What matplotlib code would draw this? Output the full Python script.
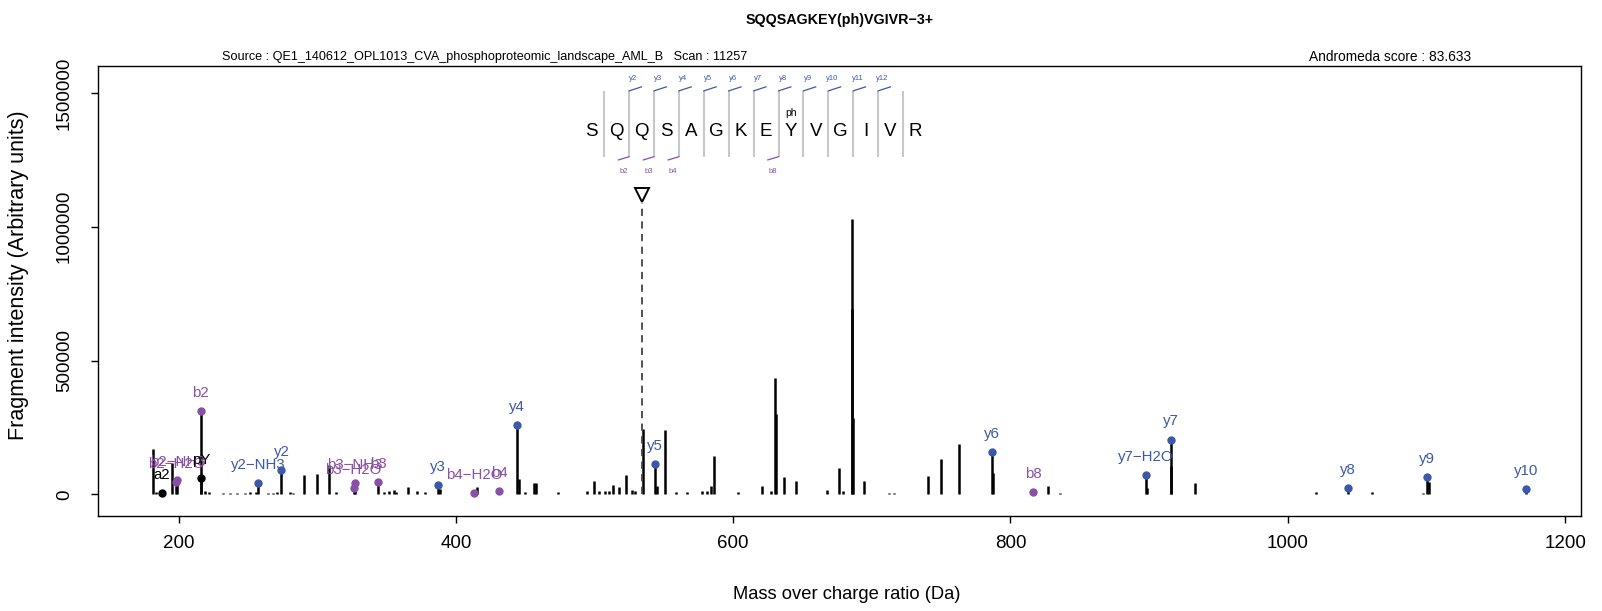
import matplotlib
matplotlib.use("Agg")
import matplotlib.pyplot as plt
import numpy as np

plt.rcParams["font.family"] = ["Liberation Sans", "DejaVu Sans"]

# Unlabelled peaks (m/z, intensity)
peak_mz = [181.4, 183.5, 195.5, 219.0, 221.9, 232.3, 237.1, 242.0, 248.0, 251.6,
           255.9, 264.8, 268.4, 270.8, 280.4, 282.4, 290.6, 299.5, 308.7, 313.8,
           348.2, 352.0, 355.7, 357.0, 365.3, 372.2, 377.8, 388.3, 415.1, 445.8,
           449.9, 456.0, 457.8, 473.5, 494.4, 499.8, 503.3, 507.6, 510.7, 513.5,
           517.8, 522.6, 526.9, 529.2, 535.3, 544.9, 551.0, 558.6, 566.5, 577.3,
           581.0, 584.2, 586.4, 603.8, 620.9, 627.4, 630.0, 630.6, 636.6, 645.3,
           667.5, 676.4, 679.5, 685.5, 685.9, 686.3, 694.4, 712.4, 716.2, 740.8,
           749.7, 762.9, 787.4, 827.3, 835.8, 898.4, 915.9, 932.9, 1020.4, 1060.6,
           1097.4, 1101.5]
peak_int = [170e3, 10e3, 116e3, 12e3, 8e3, 6e3, 6e3, 6e3, 5e3, 8e3,
            8e3, 6e3, 6e3, 8e3, 8e3, 6e3, 74e3, 75e3, 110e3, 10e3,
            10e3, 12e3, 15e3, 8e3, 26e3, 12e3, 8e3, 20e3, 26e3, 56e3,
            9e3, 41e3, 41e3, 10e3, 14e3, 50e3, 12e3, 12e3, 12e3, 35e3,
            28e3, 72e3, 15e3, 12e3, 245e3, 31e3, 241e3, 10e3, 10e3, 12e3,
            12e3, 30e3, 143e3, 8e3, 31e3, 12e3, 436e3, 300e3, 65e3, 50e3,
            16e3, 97e3, 12e3, 1028e3, 692e3, 286e3, 51e3, 5e3, 5e3, 70e3,
            131e3, 188e3, 79e3, 31e3, 6e3, 25e3, 106e3, 44e3, 8e3, 8e3,
            5e3, 47e3]

# Annotated fragment ions
ion_names = ["a2", "b2\u2212H2O", "b2\u2212NH3", "pY", "b2", "y2\u2212NH3", "y2",
             "b3\u2212H2O", "b3\u2212NH3", "b3", "y3", "b4\u2212H2O", "b4", "y4",
             "y5", "y6", "b8", "y7\u2212H2O", "y7", "y8", "y9", "y10"]
ion_mz = [188.07, 198.09, 199.07, 216.04, 216.10, 257.16, 274.19,
          326.15, 327.13, 344.16, 387.27, 413.18, 431.19, 444.29,
          543.36, 786.39, 816.39, 897.42, 915.43, 1043.53, 1100.55, 1171.59]
ion_int = [6e3, 47e3, 54e3, 62e3, 310e3, 41e3, 91e3,
           24e3, 44e3, 45e3, 35e3, 4e3, 12.7e3, 258e3,
           112e3, 160e3, 8e3, 73e3, 205e3, 23e3, 65e3, 20e3]
ion_kind = ["other", "b", "b", "other", "b", "y", "y",
            "b", "b", "b", "y", "b", "b", "y",
            "y", "y", "b", "y", "y", "y", "y", "y"]

kind_colors = {"b": "#8A4FA6", "y": "#3C58A8", "other": "black"}

# Peptide sequence annotation
sequence = "SQQSAGKEYVGIVR"
seq_y_labels = ["y2", "y3", "y4", "y5", "y6", "y7", "y8", "y9", "y10", "y11", "y12"]
seq_y_sites = [1, 2, 3, 4, 5, 6, 7, 8, 9, 10, 11]
seq_b_labels = ["b2", "b3", "b4", "b8"]
seq_b_sites = [1, 2, 3, 7]
phospho_site = 8
precursor_mz = 534.59

title = "SQQSAGKEY(ph)VGIVR\u22123+"
source_text = "Source : QE1_140612_OPL1013_CVA_phosphoproteomic_landscape_AML_B   Scan : 11257"
score_text = "Andromeda score : 83.633"

fig = plt.figure(figsize=(16.02, 6.11), dpi=100)
ax = fig.add_axes([0.0612, 0.1555, 0.9257, 0.7358])

# spectrum
ax.vlines(peak_mz, 0, peak_int, color="black", lw=1.8)
ax.vlines(ion_mz, 0, ion_int, color="black", lw=1.8)

for name, mz, inten, kind in zip(ion_names, ion_mz, ion_int, ion_kind):
    c = kind_colors[kind]
    ax.plot(mz, inten, "o", color=c, ms=5, zorder=3)
    ax.annotate(name, (mz, inten), xytext=(0, 13), textcoords="offset points",
                ha="center", va="center", color=c, fontsize=10.8)

# sequence drawing
seq_x0, seq_step = 498.0, 17.96
letter_y = 1.355e6
sep_lo, sep_hi = 1.262e6, 1.508e6
for i, aa in enumerate(sequence):
    ax.text(seq_x0 + i * seq_step, letter_y, aa, ha="center", va="center", fontsize=13.5)
sep_x = seq_x0 + (np.arange(len(sequence) - 1) + 0.5) * seq_step
ax.vlines(sep_x, sep_lo, sep_hi, color="#C8C8C8", lw=1.5)
for lab, s in zip(seq_y_labels, seq_y_sites):
    x = sep_x[s]
    ax.plot([x, x + 8.9], [sep_hi, sep_hi + 15e3], color="#3C58A8", lw=0.9)
    ax.text(x + 3, 1.556e6, lab, ha="center", va="center", fontsize=5.5, color="#3C58A8")
for lab, s in zip(seq_b_labels, seq_b_sites):
    x = sep_x[s]
    ax.plot([x, x - 7.7], [sep_lo, sep_lo - 12e3], color="#8A4FA6", lw=0.9)
    ax.text(x - 4.1, 1.208e6, lab, ha="center", va="center", fontsize=5.5, color="#8A4FA6")
ax.text(seq_x0 + phospho_site * seq_step, 1.425e6, "ph", ha="center", va="center", fontsize=7.5)

# precursor marker
ax.vlines(precursor_mz, 0, 1.09e6, color="#444444", lw=1.3, linestyles=(0, (4, 3)))
ax.plot(precursor_mz, 1.118e6, "v", ms=10, mfc="white", mec="black", mew=1.4)

ax.set_xlim(141.9, 1211.5)
ax.set_ylim(-80.7e3, 1.5994e6)
ax.set_xticks([200, 400, 600, 800, 1000, 1200])
yt = [0, 500000, 1000000, 1500000]
ax.set_yticks(yt)
ax.set_yticklabels([str(v) for v in yt], rotation=90, va="center")
ax.tick_params(direction="out", length=5, width=1, labelsize=13.5)
ax.tick_params(axis="x", pad=9)
ax.tick_params(axis="y", pad=13)
for sp in ax.spines.values():
    sp.set_linewidth(1)

ax.set_xlabel("Mass over charge ratio (Da)", fontsize=13.2)
ax.set_ylabel("Fragment intensity (Arbitrary units)", fontsize=15.5)
ax.xaxis.set_label_coords(0.505, -0.155)
ax.yaxis.set_label_coords(-0.0465, 0.535)

fig.text(0.5243, 0.968, title, ha="center", va="center", fontsize=10.3, fontweight="bold")
fig.text(0.1386, 0.9075, source_text, ha="left", va="center", fontsize=9.1)
fig.text(0.8171, 0.9075, score_text, ha="left", va="center", fontsize=9.9)

fig.savefig("out.png", dpi=100)
